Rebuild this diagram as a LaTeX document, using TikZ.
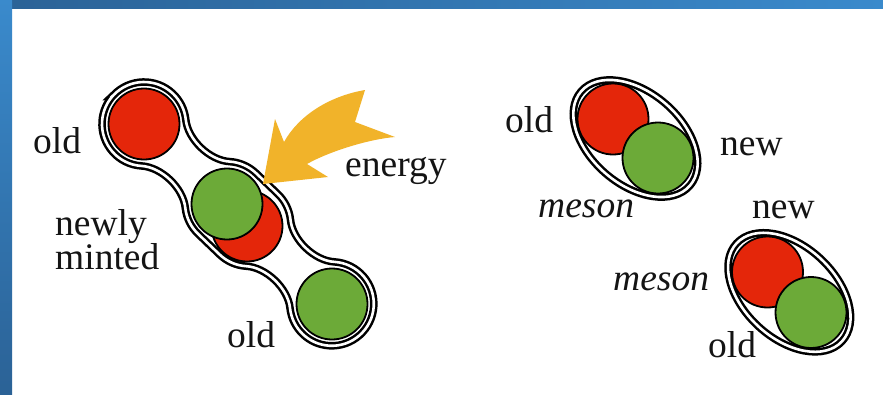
\documentclass[tikz,border=0pt]{standalone}
\usepackage{fontspec}
\setmainfont{Liberation Serif}
\definecolor{quarkred}{RGB}{228,38,10}
\definecolor{quarkgreen}{RGB}{108,170,56}
\definecolor{swoosh}{RGB}{241,179,42}
\definecolor{frameblue}{RGB}{43,98,150}
\definecolor{frameblueL}{RGB}{58,138,204}
\definecolor{inkc}{RGB}{20,20,20}
\tikzset{
  quark/.style={circle, draw=black, line width=1.8pt, minimum size=71pt, inner sep=0pt},
  redq/.style={quark, fill=quarkred},
  greenq/.style={quark, fill=quarkgreen},
  bag/.style={draw=black, line width=2.5pt, double=white, double distance=2.6pt},
  lbl/.style={inner sep=0pt, anchor=base west, text=inkc, font=\fontsize{37.5}{40}\selectfont},
  ilbl/.style={lbl, font=\fontsize{37.5}{40}\selectfont\itshape},
}
\begin{document}
\begin{tikzpicture}[x=1pt,y=1pt]
\useasboundingbox (0,0) rectangle (883,-394);
% slide frame
\fill[white] (0,0) rectangle (883,-394);
\shade[left color=frameblue, right color=frameblueL] (0,0) rectangle (883,-8);
\shade[top color=frameblueL, bottom color=frameblue] (0,0) rectangle (12,-394);

% string of three bags being stretched apart
\begin{scope}[shift={(144,-124)}, rotate=-43.75]
  \draw[bag] (-42,0) arc[start angle=180, end angle=50, radius=42]
    .. controls (42.3,19.0) and (72.7,19.0) .. (88.0,32.17)
    arc[start angle=130, end angle=90, radius=42]
    -- (145,42)
    arc[start angle=90, end angle=50, radius=42]
    .. controls (187.3,19.0) and (217.7,19.0) .. (233.0,32.17)
    arc[start angle=130, end angle=-130, radius=42]
    .. controls (217.7,-19.0) and (187.3,-19.0) .. (172.0,-32.17)
    arc[start angle=-50, end angle=-90, radius=42]
    -- (115,-42)
    arc[start angle=-90, end angle=-130, radius=42]
    .. controls (72.7,-19.0) and (42.3,-19.0) .. (27.0,-32.17)
    arc[start angle=-50, end angle=-180, radius=42] -- cycle;
\end{scope}
\node[redq]   (qa) at (144,-124) {};
\node[redq]   (qb) at (247,-226) {};
\node[greenq] (qc) at (227,-204) {};
\node[greenq] (qd) at (332,-304) {};

% energy swoosh
\fill[swoosh] (263,-184) -- (275,-119) -- (284,-142)
  .. controls (299,-115) and (330,-96) .. (365,-90)
  -- (355,-122) -- (395,-137)
  .. controls (370,-139) and (330,-151) .. (307,-164)
  -- (328,-177) -- cycle;

% two mesons
\draw[bag, rotate around={-40.9:(635.5,-138.5)}] (635.5,-138.5) ellipse[x radius=72, y radius=46];
\draw[bag, rotate around={-43:(789.3,-292.3)}] (789.3,-292.3) ellipse[x radius=72, y radius=46];
\node[redq]   (ma) at (613,-119) {};
\node[greenq] (mb) at (658,-158) {};
\node[redq]   (mc) at (767.5,-272) {};
\node[greenq] (md) at (811,-312.5) {};

% labels
\node[lbl] (t1) at (33,-153) {old};
\node[lbl] (t2) at (55,-235) {newly};
\node[lbl] (t3) at (55,-269) {minted};
\node[lbl] (t4) at (227,-347) {old};
\node[lbl] (t5) at (345,-176) {energy};
\node[lbl] (t6) at (505,-132) {old};
\node[lbl] (t7) at (720,-155) {new};
\node[ilbl] (t8) at (538,-217) {meson};
\node[lbl] (t9) at (752,-218) {new};
\node[ilbl] (t10) at (613,-290) {meson};
\node[lbl] (t11) at (708,-357) {old};
\end{tikzpicture}
\end{document}
